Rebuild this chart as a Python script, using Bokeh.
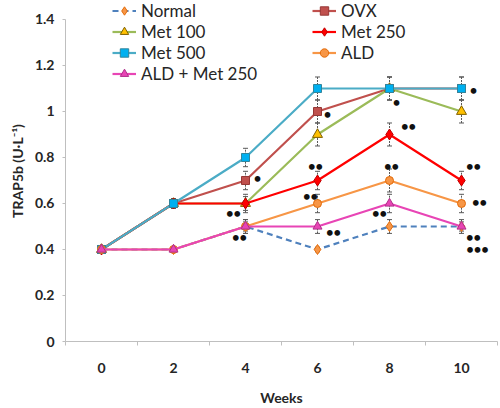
from bokeh.plotting import figure
from bokeh.models import (ColumnDataSource, Whisker, TeeHead, Legend, LegendItem,
                          FixedTicker, Range1d)
from bokeh.core.properties import value
from bokeh.embed import file_html
from bokeh.resources import INLINE

# ---------------- data ----------------
weeks = [0, 2, 4, 6, 8, 10]
x_tick_labels = ["0", "2", "4", "6", "8", "10"]
y_ticks = [0, 0.2, 0.4, 0.6, 0.8, 1, 1.2, 1.4]
y_tick_labels = ["0", "0.2", "0.4", "0.6", "0.8", "1", "1.2", "1.4"]

series_names = ["Normal", "OVX", "Met 100", "Met 250", "Met 500", "ALD", "ALD + Met 250"]

normal = [0.4, 0.4, 0.5, 0.4, 0.5, 0.5]
ovx = [0.4, 0.6, 0.7, 1.0, 1.1, 1.1]
met100 = [0.4, 0.6, 0.6, 0.9, 1.1, 1.0]
met250 = [0.4, 0.6, 0.6, 0.7, 0.9, 0.7]
met500 = [0.4, 0.6, 0.8, 1.1, 1.1, 1.1]
ald = [0.4, 0.4, 0.5, 0.6, 0.7, 0.6]
ald_met250 = [0.4, 0.4, 0.5, 0.5, 0.6, 0.5]

normal_err = [0.01, 0.01, 0.02, 0.01, 0.03, 0.02]
ovx_err = [0.01, 0.02, 0.04, 0.05, 0.05, 0.05]
met100_err = [0.01, 0.02, 0.03, 0.05, 0.05, 0.05]
met250_err = [0.01, 0.02, 0.04, 0.04, 0.05, 0.04]
met500_err = [0.01, 0.02, 0.04, 0.05, 0.05, 0.05]
ald_err = [0.01, 0.01, 0.03, 0.04, 0.05, 0.04]
ald_met250_err = [0.01, 0.01, 0.03, 0.03, 0.04, 0.03]

values = dict(zip(series_names, [normal, ovx, met100, met250, met500, ald, ald_met250]))
errors = dict(zip(series_names, [normal_err, ovx_err, met100_err, met250_err,
                                 met500_err, ald_err, ald_met250_err]))

# significance marks: (series, week index, text)
sig_series = ["OVX", "Met 250", "ALD + Met 250",
              "OVX", "Met 250", "ALD", "ALD + Met 250",
              "Met 100", "Met 250", "ALD", "ALD + Met 250",
              "Met 500", "Met 250", "ALD", "ALD + Met 250", "ALD + Met 250"]
sig_week_idx = [2, 2, 2, 3, 3, 3, 3, 4, 4, 4, 4, 5, 5, 5, 5, 5]
sig_text = ["•", "••", "••", "•", "••", "••", "••", "•", "••", "••", "••",
            "•", "••", "••", "••", "•••"]
# screen offsets of the marks (style)
sig_dx = [12, -12, -6, 10, -2, -7, 16, 7, 19, 2, -10, 12, 12, 18, 12, 16]
sig_dy = [-2, 10, 11, 3, -14, -7, 6, 14, -8, -14, 10, 2, -14, -1, 11, 23]

# ---------------- styles ----------------
styles = {
    "Normal": dict(line="#4f81bd", dash="6 4", marker="diamond", fill="#f79646", mline="#e46c0a", size=10),
    "OVX": dict(line="#c0504d", dash="solid", marker="square", fill="#c0504d", mline="#953735", size=8),
    "Met 100": dict(line="#9bbb59", dash="solid", marker="triangle", fill="#ffc000", mline="#7f6000", size=10),
    "Met 250": dict(line="#ff0000", dash="solid", marker="diamond", fill="#ff0000", mline="#c00000", size=11),
    "Met 500": dict(line="#4bacc6", dash="solid", marker="square", fill="#00b0f0", mline="#31859c", size=8),
    "ALD": dict(line="#f79646", dash="solid", marker="circle", fill="#f79646", mline="#e46c0a", size=8),
    "ALD + Met 250": dict(line="#e845b5", dash="solid", marker="triangle", fill="#e845b5", mline="#b0308a", size=9),
}

FONT = "Lato"

# frame spans 0..1.4826 so that the legend (drawn inside the frame) can sit above 1.4
p = figure(frame_width=432, frame_height=341, output_backend="svg", toolbar_location=None,
           x_range=Range1d(-1, 11), y_range=Range1d(0, 1.4826),
           min_border_left=65, min_border_right=3, min_border_top=0, min_border_bottom=67)
p.outline_line_color = None
p.grid.visible = False
p.background_fill_color = "white"
p.border_fill_color = "white"

# x axis
p.xaxis.ticker = FixedTicker(ticks=weeks, minor_ticks=[-1, 1, 3, 5, 7, 9, 11])
p.xaxis.major_label_overrides = {w: lab for w, lab in zip(weeks, x_tick_labels)}
p.xaxis.major_tick_out = 0
p.xaxis.major_tick_in = 0
p.xaxis.minor_tick_out = 4
p.xaxis.minor_tick_in = 0
p.xaxis.minor_tick_line_color = "#bfbfbf"
p.xaxis.major_label_standoff = 17
p.xaxis.axis_label = "Weeks"
p.xaxis.axis_label_standoff = 13

# y axis
p.yaxis.ticker = FixedTicker(ticks=y_ticks, minor_ticks=[])
p.yaxis.bounds = (0, 1.4)
p.yaxis.major_label_overrides = {t: lab for t, lab in zip(y_ticks, y_tick_labels)}
p.yaxis.major_tick_out = 3
p.yaxis.major_tick_in = 0
p.yaxis.major_label_standoff = 8
p.yaxis.axis_label = "TRAP5b (U·L⁻¹)"
p.yaxis.axis_label_standoff = 6

for ax in (p.xaxis, p.yaxis):
    ax.axis_line_color = "#bfbfbf"
    ax.major_tick_line_color = "#bfbfbf"
    ax.major_label_text_font = FONT
    ax.major_label_text_font_style = "bold"
    ax.major_label_text_font_size = "14px"
    ax.major_label_text_color = "#262626"
    ax.axis_label_text_font = FONT
    ax.axis_label_text_font_style = "bold"
    ax.axis_label_text_font_size = "14px"
    ax.axis_label_text_color = "#262626"

items = {}
for name in series_names:
    st = styles[name]
    vals = values[name]
    errs = errors[name]
    src = ColumnDataSource(dict(x=weeks, y=vals,
                                lower=[v - e for v, e in zip(vals, errs)],
                                upper=[v + e for v, e in zip(vals, errs)]))
    lr = p.line("x", "y", source=src, line_color=st["line"], line_width=2.2, line_dash=st["dash"])
    sr = p.scatter("x", "y", source=src, marker=st["marker"], size=st["size"],
                   fill_color=st["fill"], line_color=st["mline"], line_width=1)
    wh = Whisker(base="x", lower="lower", upper="upper", source=src,
                 line_color="#595959", line_width=1, line_dash="2 1",
                 upper_head=TeeHead(size=5, line_color="#595959", line_width=1),
                 lower_head=TeeHead(size=5, line_color="#595959", line_width=1))
    p.add_layout(wh)
    items[name] = LegendItem(label=name, renderers=[lr, sr])

# significance marks
sig_x = [weeks[i] for i in sig_week_idx]
sig_y = [values[s][i] for s, i in zip(sig_series, sig_week_idx)]
p.text(x=sig_x, y=sig_y, text=sig_text, x_offset=sig_dx, y_offset=sig_dy,
       text_font=value(FONT), text_font_style="bold", text_font_size="13px",
       text_color="#111111", text_align="center", text_baseline="middle")

leg_kw = dict(padding=0, margin=0, spacing=0, label_height=21, glyph_height=21,
              glyph_width=24, label_standoff=5, border_line_alpha=0,
              background_fill_alpha=0, label_text_font=FONT,
              label_text_font_size="17px", label_text_color="#262626")
leg1 = Legend(items=[items[n] for n in ["Normal", "Met 100", "Met 500", "ALD + Met 250"]],
              location=(47, 257), **leg_kw)
leg2 = Legend(items=[items[n] for n in ["OVX", "Met 250", "ALD"]],
              location=(247, 278), **leg_kw)
p.add_layout(leg1)
p.add_layout(leg2)

open("out.html", "w").write(file_html(p, INLINE))
